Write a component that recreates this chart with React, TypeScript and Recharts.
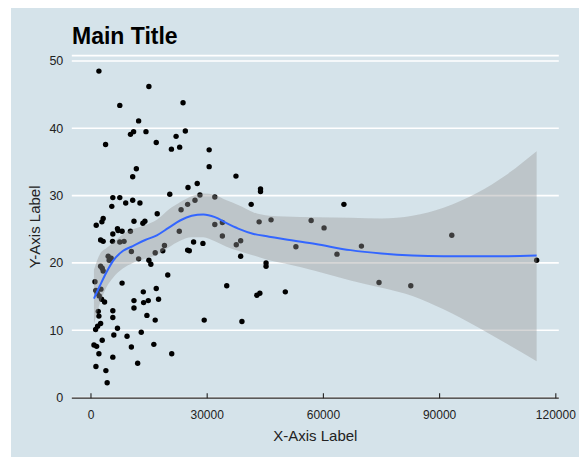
import React from 'react';
import {
  Area,
  CartesianGrid,
  ComposedChart,
  Line,
  Scatter,
  XAxis,
  YAxis,
} from 'recharts';

// raw observations
const pointX = [
  2050, 14950, 7440, 12300, 10200, 11000, 14200, 3770, 16850, 21970, 20770, 22900, 24360, 23770,
  11710, 10770, 20340, 5640, 7440, 5380, 8970, 10770, 12640, 17100, 3150, 2820, 1360, 11100,
  13920, 13400, 6840, 5640, 7000, 8030, 10180, 2490, 3150, 5560, 7440, 8540, 10430, 5210, 4700,
  4440, 12300, 14950, 15460, 16580, 18540, 18970, 22800, 2900, 2490, 3150, 1030, 8030, 19820,
  1280, 2560, 1620, 2130, 2740, 3510, 13510, 16850, 17440, 11100, 11100, 13590, 14790, 5640,
  5640, 1880, 2050, 14440, 16580, 2490, 1710, 1200, 6840, 12980, 5900, 9310, 2900, 770, 1460,
  10430, 16230, 2050, 5640, 20850, 12050, 1280, 3850, 4180, 30510, 30510, 37430, 43770, 43770,
  27430, 25050, 28130, 26850, 24950, 23260, 31970, 41360, 43410, 46490, 31970, 33920, 33920,
  38640, 37510, 26490, 28900, 24950, 25380, 38640, 45200, 45200, 35050, 42820, 43590, 29230,
  38970, 65300, 56840, 60170, 52900, 63510, 69820, 74360, 50170, 93150, 82560, 115050,
];
const pointY = [
  48.5, 46.2, 43.4, 41.1, 39.1, 39.5, 39.5, 37.6, 37.9, 38.8, 36.9, 37.2, 39.6, 43.8,
  34.0, 32.8, 30.2, 29.7, 29.7, 28.4, 28.9, 29.3, 28.9, 27.3, 26.6, 26.1, 25.6, 26.2,
  26.2, 25.9, 25.1, 24.3, 24.8, 24.7, 24.7, 23.4, 23.2, 23.2, 23.1, 23.2, 21.7, 20.7, 20.4,
  21.0, 20.6, 20.4, 19.8, 21.5, 21.8, 22.6, 24.7, 19.2, 19.5, 18.8, 17.2, 17.0, 18.2,
  15.9, 16.1, 15.5, 15.1, 14.6, 14.2, 15.7, 16.2, 14.6, 14.4, 13.3, 14.1, 14.4, 12.9,
  11.9, 12.8, 12.1, 12.2, 11.5, 11.0, 10.6, 10.1, 10.3, 9.7, 9.3, 9.1, 8.5, 7.8, 7.6,
  7.5, 7.9, 6.5, 6.0, 6.5, 5.1, 4.6, 4.0, 2.2, 36.8, 34.3, 32.9, 31.0, 30.6,
  31.8, 31.2, 30.1, 29.3, 28.7, 27.9, 29.8, 28.7, 26.1, 26.4, 25.7, 26.0, 24.0,
  23.3, 22.7, 23.1, 22.9, 21.9, 21.8, 21.0, 20.0, 19.5, 16.6, 15.2, 15.5, 11.5,
  11.3, 28.7, 26.3, 25.2, 22.4, 21.3, 22.5, 17.1, 15.7, 24.1, 16.6, 20.4,
];

// loess fit with its confidence band
const fitX = [
  770, 2300, 4000, 5700, 8300, 10800, 14000, 17000, 20000, 23000, 26000, 29000, 32000, 35000,
  38000, 42000, 46000, 50000, 58000, 67000, 75000, 83000, 91000, 100000, 107000, 115050,
];
const fitY = [
  14.7, 16.6, 18.6, 20.3, 21.8, 22.5, 23.4, 24.1, 25.2, 26.3, 27.0, 27.2, 26.8, 25.9,
  25.1, 24.3, 23.9, 23.5, 22.8, 21.9, 21.4, 21.1, 21.0, 21.0, 21.0, 21.1,
];
const fitLow = [
  10.9, 14.0, 16.4, 17.8, 19.2, 20.0, 20.6, 21.2, 22.3, 23.3, 23.8, 23.8, 23.2, 22.4,
  21.8, 21.1, 20.4, 19.9, 18.8, 17.4, 16.3, 15.1, 13.1, 10.4, 8.1, 5.4,
];
const fitHigh = [
  19.0, 21.3, 22.2, 23.0, 24.3, 25.0, 25.6, 26.4, 27.9, 29.0, 29.9, 30.3, 30.1, 29.3,
  28.6, 27.5, 27.0, 26.9, 26.8, 26.7, 26.6, 27.0, 28.2, 30.5, 33.0, 36.6,
];

const xTicks = [0, 30000, 60000, 90000, 120000];
const yTicks = [0, 10, 20, 30, 40, 50];

const points = pointX.map((x, i) => ({ x, y: pointY[i] }));
const fitRows = fitX.map((x, i) => ({ x, fit: fitY[i], band: [fitLow[i], fitHigh[i]] }));

const FONT = '"Liberation Sans", Arial, sans-serif';
const INK = '#222';

const Dot = (p: any) => <circle cx={p.cx} cy={p.cy} r={2.7} fill="#000" />;

const XTick = (p: any) => (
  <g>
    <line x1={p.x} x2={p.x} y1={p.y - 8} y2={p.y - 13} stroke={INK} strokeWidth={1.1} />
    <text x={p.x} y={p.y} dy={13} textAnchor="middle" fill={INK} fontSize={12} fontFamily={FONT}>
      {p.payload.value}
    </text>
  </g>
);

export default function App() {
  return (
    <div
      style={{
        position: 'absolute',
        left: 11,
        top: 8,
        width: 568,
        height: 449,
        background: '#d5e3ea',
        fontFamily: FONT,
      }}
    >
      <div
        style={{
          position: 'absolute',
          left: 61,
          top: 17,
          fontSize: 23,
          lineHeight: '23px',
          fontWeight: 'bold',
          color: '#000',
        }}
      >
        Main Title
      </div>
      <ComposedChart
        width={568}
        height={449}
        margin={{ top: 47.6, right: 20.2, bottom: 0, left: 10.8 }}
      >
        <CartesianGrid horizontal vertical={false} stroke="#ffffff" strokeWidth={1.6} />
        <XAxis
          type="number"
          dataKey="x"
          domain={[-4950, 120770]}
          ticks={xTicks}
          interval={0}
          allowDataOverflow
          height={58.8}
          tickSize={0}
          tickMargin={8}
          tick={<XTick />}
          stroke={INK}
          axisLine={{ stroke: INK, strokeWidth: 1.2 }}
          label={{
            value: 'X-Axis Label',
            position: 'insideBottom',
            offset: 15.6,
            fill: INK,
            fontSize: 15,
            fontFamily: FONT,
          }}
        />
        <YAxis
          type="number"
          domain={[-0.1, 50.8]}
          ticks={yTicks}
          interval={0}
          allowDataOverflow
          width={50}
          tickSize={0}
          tickMargin={8.5}
          axisLine={false}
          tickLine={false}
          tick={{ fill: INK, fontSize: 12.5, fontFamily: FONT }}
          label={{
            value: 'Y-Axis Label',
            angle: -90,
            position: 'insideLeft',
            offset: 13.2,
            fill: INK,
            fontSize: 15,
            fontFamily: FONT,
            style: { textAnchor: 'middle' },
          }}
        />
        <Scatter data={points} dataKey="y" shape={Dot} zIndex={50} isAnimationActive={false} />
        <Area
          data={fitRows}
          dataKey="band"
          type="monotone"
          stroke="none"
          fill="#999999"
          fillOpacity={0.4}
          zIndex={650}
          isAnimationActive={false}
        />
        <Line
          data={fitRows}
          dataKey="fit"
          type="monotone"
          stroke="#3366FF"
          strokeWidth={2}
          dot={false}
          zIndex={700}
          isAnimationActive={false}
        />
      </ComposedChart>
    </div>
  );
}
